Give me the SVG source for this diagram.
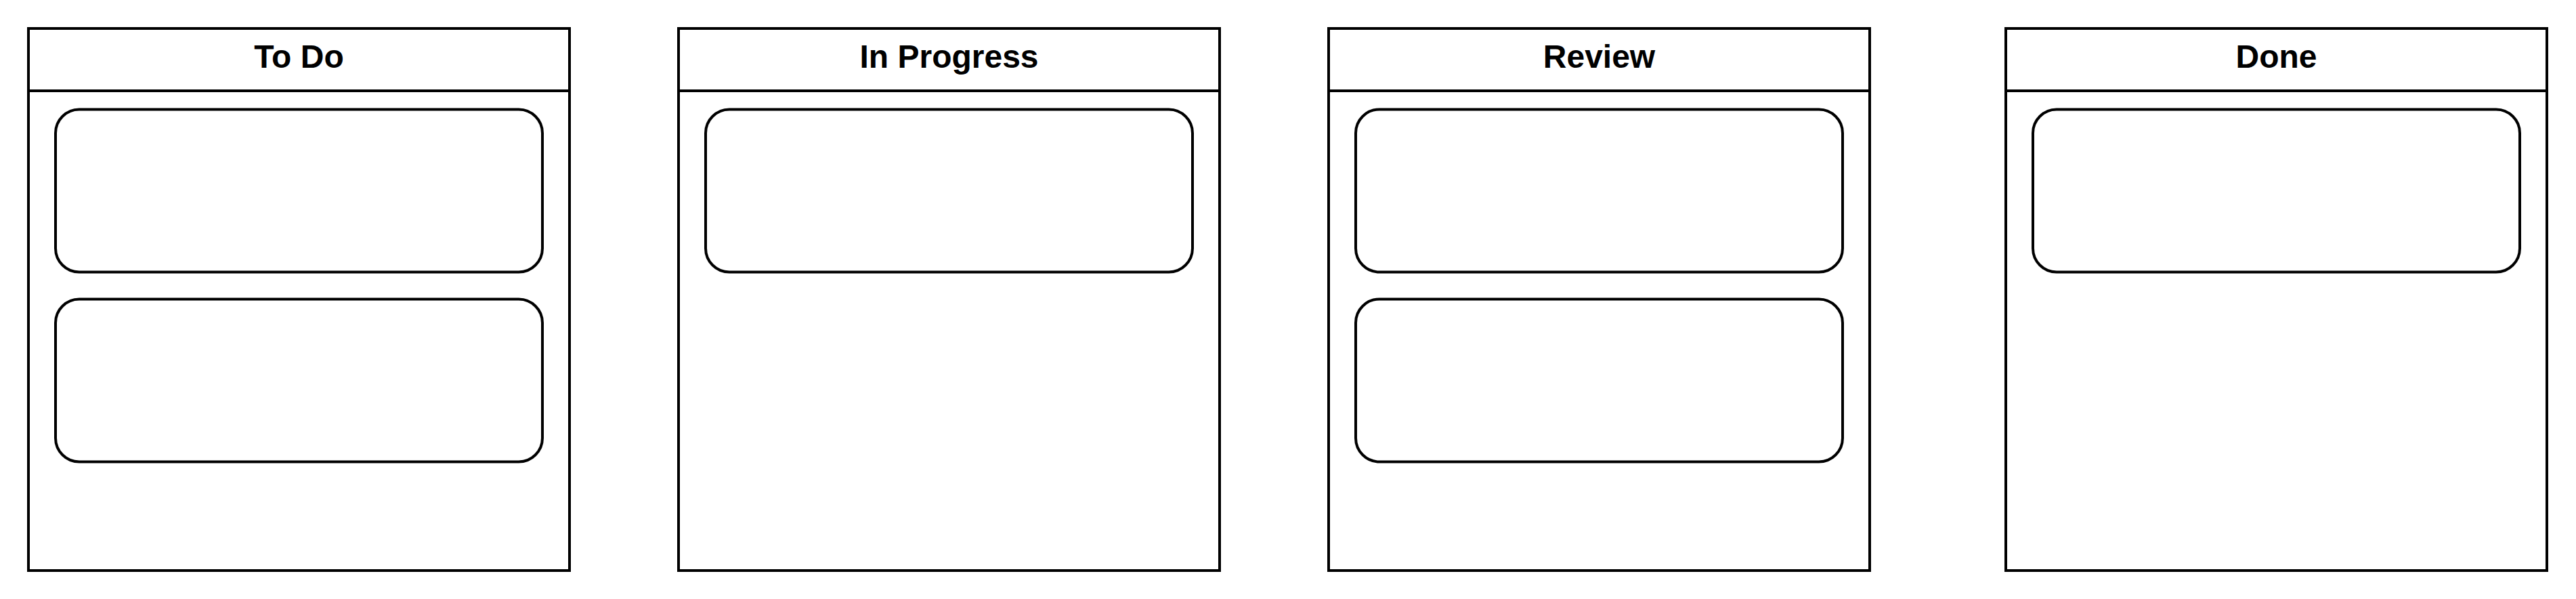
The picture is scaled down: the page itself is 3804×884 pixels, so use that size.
<svg xmlns="http://www.w3.org/2000/svg" width="3804" height="884" viewBox="0 0 3804 884">
<style>
.frame{fill:#fff;stroke:#000;stroke-width:4}
.hdr{fill:none;stroke:#000;stroke-width:4}
.card{fill:#fff;stroke:#000;stroke-width:4}
.title{font-family:"Liberation Sans",Arial,sans-serif;font-weight:bold;font-size:48px;fill:#000;text-anchor:middle}
</style>
<rect width="3804" height="884" fill="#fff"/>
<g id="col-todo">
<rect class="frame" x="42" y="42" width="799" height="800"/>
<line class="hdr" x1="42" y1="134" x2="841" y2="134"/>
<text class="title" x="441.5" y="99.5">To Do</text>
<rect id="todo-card1" class="card" x="82" y="161.5" width="719" height="240" rx="35" ry="35"/>
<rect id="todo-card2" class="card" x="82" y="441.5" width="719" height="240" rx="35" ry="35"/>
</g>
<g id="col-inprogress">
<rect class="frame" x="1002" y="42" width="799" height="800"/>
<line class="hdr" x1="1002" y1="134" x2="1801" y2="134"/>
<text class="title" x="1401.5" y="99.5">In Progress</text>
<rect id="inprogress-card1" class="card" x="1042" y="161.5" width="719" height="240" rx="35" ry="35"/>
</g>
<g id="col-review">
<rect class="frame" x="1962" y="42" width="799" height="800"/>
<line class="hdr" x1="1962" y1="134" x2="2761" y2="134"/>
<text class="title" x="2361.5" y="99.5">Review</text>
<rect id="review-card1" class="card" x="2002" y="161.5" width="719" height="240" rx="35" ry="35"/>
<rect id="review-card2" class="card" x="2002" y="441.5" width="719" height="240" rx="35" ry="35"/>
</g>
<g id="col-done">
<rect class="frame" x="2962" y="42" width="799" height="800"/>
<line class="hdr" x1="2962" y1="134" x2="3761" y2="134"/>
<text class="title" x="3361.5" y="99.5">Done</text>
<rect id="done-card1" class="card" x="3002" y="161.5" width="719" height="240" rx="35" ry="35"/>
</g>
<g id="connectors"/>
</svg>
